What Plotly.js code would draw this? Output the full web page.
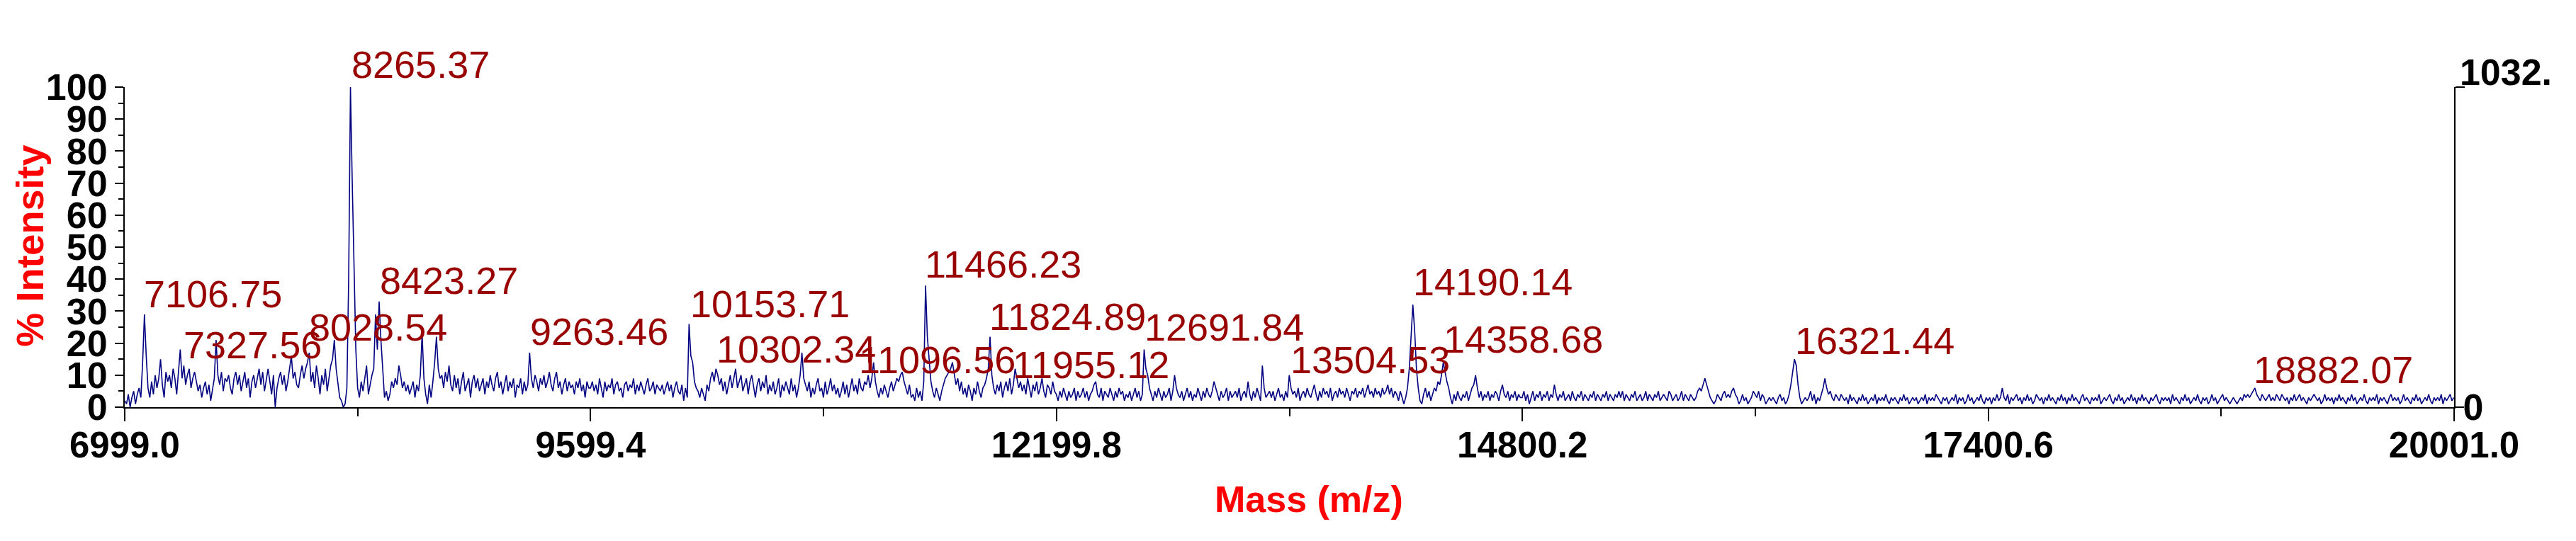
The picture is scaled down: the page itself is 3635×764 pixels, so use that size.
<!DOCTYPE html>
<html>
<head>
<meta charset="utf-8">
<script src="https://cdn.plot.ly/plotly-3.0.1.min.js"></script>
<style>html,body{margin:0;padding:0;background:#fff;}#chart{width:3635px;height:764px;}</style>
</head>
<body>
<div id="chart"></div>
<script>
// ---- DATA ----
const massStart = 6999.0;   // first mass of the sampled spectrum (Da)
const massStep = 10;        // sampling step (Da)
// % intensity, 10 Da per value
const intensityA = [ // 6999 - 9589
2,1,4,0,3,5,1,4,6,3, 14,29,16,6,3,8,4,10,6,9,
15,7,3,11,8,10,6,12,9,4, 11,18,9,13,7,10,12,6,9,11,
8,5,7,3,6,8,4,7,2,6, 9,21,10,7,11,5,9,8,10,6,
4,9,11,7,10,5,8,11,6,9, 3,8,10,6,9,12,7,11,5,9,
12,8,4,10,0,6,9,11,7,10, 5,8,12,16,9,11,7,6,10,13,
9,12,14,17,8,11,6,13,9,4, 10,7,12,5,9,13,15,21,12,8,
3,2,0,1,6,40,100,70,45,18, 6,3,8,5,9,13,4,7,10,12,
29,18,33,21,12,3,5,2,4,8, 6,9,7,13,10,6,8,5,7,4,
6,8,3,7,5,10,23,9,4,1, 7,3,8,14,22,12,9,10,6,11,
8,13,7,5,10,6,9,4,8,11, 5,7,9,3,8,10,6,9,5,7,
9,4,8,6,10,7,5,9,11,6, 8,4,7,10,5,8,6,9,3,7,
6,9,4,8,5,7,17,9,6,10, 8,5,9,7,10,6,8,11,7,5,
9,11,6,8,4,7,9,5,8,6, 7,4,8,6,9,5,7,3,8,6];
const intensityB = [ // 9599 - 12189
6,8,5,7,4,9,6,3,8,5, 7,6,9,4,7,8,5,6,3,7,
8,5,7,6,9,4,7,5,8,6, 4,7,9,5,6,8,4,7,6,5,
7,4,6,8,5,7,3,6,8,5, 4,7,2,6,3,26,16,14,8,6,
5,3,6,4,2,7,5,9,11,8, 12,10,7,9,5,8,4,7,10,6,
9,12,6,8,10,5,7,9,4,8, 10,6,3,7,9,5,8,6,10,4,
7,5,8,4,6,9,3,7,5,8, 6,4,9,5,7,3,6,10,17,9,
7,5,8,3,6,4,7,9,5,6, 3,8,4,6,9,5,7,4,6,3,
5,8,4,7,3,6,9,5,7,4, 9,6,5,8,7,10,6,9,14,8,
5,3,6,4,7,5,3,6,8,5, 7,9,8,10,11,8,6,4,7,3,
4,2,6,3,5,2,8,38,22,14, 8,5,3,6,4,2,5,7,9,10,
11,12,14,10,7,9,5,8,4,6, 3,7,5,2,6,4,8,5,3,6,
7,9,12,22,10,6,4,7,5,8, 3,6,8,5,9,4,7,12,9,6,
8,5,7,4,9,6,3,7,5,8, 4,6,9,5,3,7,6,4,8,5];
const intensityC = [ // 12199 - 14789
4,2,5,3,6,4,2,5,3,4, 6,2,5,3,4,6,3,5,2,4,
5,7,8,4,3,6,2,5,4,3, 6,4,2,5,3,6,4,5,2,4,
3,5,2,4,6,3,5,2,4,18, 12,10,6,4,2,5,3,6,4,2,
5,3,4,6,2,5,10,6,4,3, 5,2,4,6,3,5,2,4,3,6,
4,2,5,3,6,4,3,5,8,6, 4,2,5,3,4,6,2,5,3,4,
5,3,6,2,4,5,3,8,4,2, 5,3,6,4,2,13,6,3,4,5,
3,5,2,4,6,3,4,2,5,3, 10,6,4,5,3,6,2,4,5,3,
6,4,3,5,7,4,2,5,3,6, 4,5,3,6,2,4,5,3,6,4,
5,3,6,4,2,5,4,6,3,5, 4,6,3,5,7,4,5,3,6,4,
5,3,6,4,5,7,4,6,3,5, 4,2,5,3,1,3,6,12,22,32,
24,12,6,2,1,4,6,3,5,2, 4,6,5,8,7,10,14,11,8,6,
3,1,4,2,5,3,2,4,3,5, 2,4,6,7,10,6,3,5,2,4,
3,5,2,4,3,5,4,2,5,7, 4,3,5,2,4,3,5,2,4,3];
const intensityD = [ // 14799 - 17389
3,5,2,4,1,3,5,2,4,3, 5,2,4,3,5,2,4,3,7,4,
2,4,3,5,2,3,4,2,5,3, 2,4,3,5,2,4,3,2,4,3,
5,2,4,3,2,4,3,5,2,4, 3,2,4,3,5,3,5,2,4,3,
2,4,3,5,2,3,4,2,3,5, 2,4,3,2,4,3,5,2,3,4,
3,2,5,4,2,3,4,2,3,5, 2,4,3,2,4,3,2,3,5,6,
5,7,9,7,5,3,2,1,2,4, 3,2,4,5,3,4,3,5,6,4,
3,1,2,4,2,3,1,2,3,5, 4,3,5,2,4,3,1,2,3,2,
3,2,1,3,4,2,3,1,2,4, 7,11,15,13,7,3,1,2,3,2,
3,5,2,4,1,3,2,4,6,9, 6,4,5,3,2,4,3,2,4,3,
2,3,1,4,2,3,2,1,3,2, 4,2,3,1,2,3,2,4,1,3,
2,3,2,4,2,1,3,2,3,2, 1,3,2,4,2,3,1,2,3,2,
3,1,2,3,2,4,1,3,2,3, 2,4,3,2,1,3,2,3,1,2,
3,2,4,1,3,2,3,1,2,4, 2,3,1,2,3,2,4,2,1,3];
const intensityE = [ // 17399 - 19999
2,3,1,3,2,4,2,3,6,3, 2,4,1,3,2,3,4,2,3,1,
3,2,4,2,3,1,2,4,3,2, 3,1,3,2,4,2,3,2,1,3,
2,4,2,3,1,3,2,4,2,3, 2,1,3,4,2,3,2,1,3,2,
3,2,4,1,2,3,2,3,4,2, 1,3,2,4,2,3,1,2,3,2,
4,2,3,1,3,2,4,2,3,2, 1,3,2,3,4,2,1,3,2,3,
2,3,1,4,2,3,2,1,3,2, 4,2,3,1,2,3,2,4,2,1,
3,2,3,1,2,4,2,3,1,2, 3,4,2,3,2,1,2,3,2,1,
2,3,2,4,3,4,3,4,5,6, 4,3,2,4,3,2,3,4,2,3,
2,4,3,2,4,3,2,3,1,3, 2,4,2,3,4,2,3,2,1,3,
2,3,4,3,2,3,1,2,4,2, 3,2,3,1,3,2,4,2,3,2,
1,3,2,4,2,3,1,2,3,2, 4,2,1,3,2,3,2,4,1,3,
2,3,2,1,3,4,2,3,2,3, 1,2,4,2,3,2,1,3,2,4,
2,3,1,2,3,2,4,2,1,3, 2,3,2,4,1,3,2,3,4,2, 3];

// labelled peaks (m/z)
const peakMasses = [7106.75, 7327.56, 8028.54, 8265.37, 8423.27, 9263.46, 10153.71, 10302.34,
  11096.56, 11466.23, 11824.89, 11955.12, 12691.84, 13504.53, 14190.14, 14358.68, 16321.44, 18882.07];

// axis ticks and titles
const massTicks = [6999.0, 9599.4, 12199.8, 14800.2, 17400.6, 20001.0];
const intensityTicks = [0, 10, 20, 30, 40, 50, 60, 70, 80, 90, 100];
const rightAxisMax = 1032.9;
const rightTickText = '1032.';
const xTitle = 'Mass (m/z)';
const yTitle = '% Intensity';

// ---- LAYOUT (label placement, % intensity of text baseline) ----
const labelLevels = [31.1, 15.3, 20.8, 102.8, 35.3, 19.5, 28.2, 14.0,
  10.6, 40.5, 24.2, 9.1, 20.7, 10.6, 34.9, 17.1, 16.7, 7.5];
const PX_PER_PCT = 4.52;   // plot height 452 px for 100 %

const FONT = 'Liberation Sans, Arial, Helvetica, sans-serif';
const intensity = [].concat(intensityA, intensityB, intensityC, intensityD, intensityE);

const traces = [
  {type: 'scatter', mode: 'lines', x0: massStart, dx: massStep, y: intensity,
   line: {color: '#000080', width: 1.6}, hoverinfo: 'skip', showlegend: false},
  {type: 'scatter', mode: 'lines', x: [], y: [], yaxis: 'y2', showlegend: false, hoverinfo: 'skip'},
  {type: 'scatter', mode: 'lines', x: [], y: [], yaxis: 'y3', showlegend: false, hoverinfo: 'skip'}
];

const annotations = peakMasses.map((m, i) => {
  const lvl = labelLevels[i];
  const yy = Math.min(lvl, 100);   // keep anchor inside the axis range
  return {
    x: m, y: yy, xref: 'x', yref: 'y',
    text: m.toFixed(2), showarrow: false, xanchor: 'left', yanchor: 'bottom',
    yshift: -13 + (lvl - yy) * PX_PER_PCT, xshift: -2,
    font: {family: FONT, size: 54, color: '#990000'}
  };
});
// axis titles placed as in the reference
annotations.push({
  text: xTitle, xref: 'paper', yref: 'paper', x: 0.5084, y: -0.2876,
  xanchor: 'center', yanchor: 'middle', showarrow: false,
  font: {family: FONT, size: 52, color: '#FF0000', weight: 'bold'}
});
annotations.push({
  text: yTitle, xref: 'paper', yref: 'paper', x: -0.0408, y: 0.505, textangle: -90,
  xanchor: 'center', yanchor: 'middle', showarrow: false,
  font: {family: FONT, size: 54, color: '#FF0000', weight: 'bold'}
});

const yTick = () => ({family: FONT, size: 52, color: '#000', weight: 'bold'});
const xTick = () => ({family: FONT, size: 51, color: '#000', weight: 'bold'});

const layout = {
  width: 3635, height: 764,
  margin: {l: 176, r: 172, t: 123, b: 189, pad: 0},
  paper_bgcolor: '#fff', plot_bgcolor: '#fff',
  showlegend: false,
  xaxis: {
    range: [massTicks[0], massTicks[massTicks.length - 1]],
    tickmode: 'array', tickvals: massTicks, ticktext: massTicks.map(v => v.toFixed(1)),
    ticks: 'outside', ticklen: 18, tickwidth: 2, tickcolor: '#000',
    ticklabelstandoff: -10,
    minor: {tickmode: 'linear', tick0: massTicks[0], dtick: (massTicks[1] - massTicks[0]) / 2,
            ticks: 'outside', ticklen: 11, tickwidth: 2, tickcolor: '#000', showgrid: false},
    showline: true, linecolor: '#000', linewidth: 2,
    showgrid: false, zeroline: false,
    tickfont: xTick()
  },
  yaxis: {
    range: [0, 100],
    tickmode: 'array', tickvals: intensityTicks, ticktext: intensityTicks.map(String),
    ticks: 'outside', ticklen: 12, tickwidth: 2, tickcolor: '#000',
    minor: {tickmode: 'linear', tick0: 0, dtick: 5, ticks: 'outside', ticklen: 7, tickwidth: 2, tickcolor: '#000', showgrid: false},
    showline: true, linecolor: '#000', linewidth: 2,
    showgrid: false, zeroline: false,
    tickfont: yTick()
  },
  yaxis2: {
    overlaying: 'y', side: 'right', range: [0, rightAxisMax],
    tickmode: 'array', tickvals: [rightAxisMax], ticktext: [rightTickText],
    ticklabelposition: 'outside top', ticklabelshift: 16, ticklabelstandoff: -4,
    ticks: 'outside', ticklen: 13, tickwidth: 2, tickcolor: '#000',
    showline: true, linecolor: '#000', linewidth: 1.5,
    showgrid: false, zeroline: false, tickfont: yTick()
  },
  yaxis3: {
    overlaying: 'y', side: 'right', range: [0, 1],
    tickmode: 'array', tickvals: [0], ticktext: ['0'],
    ticklabelstandoff: -12,
    ticks: 'outside', ticklen: 13, tickwidth: 2, tickcolor: '#000',
    showline: false, showgrid: false, zeroline: false, tickfont: yTick()
  },
  annotations: annotations
};

Plotly.newPlot('chart', traces, layout, {displayModeBar: false, staticPlot: true});
</script>
</body>
</html>
